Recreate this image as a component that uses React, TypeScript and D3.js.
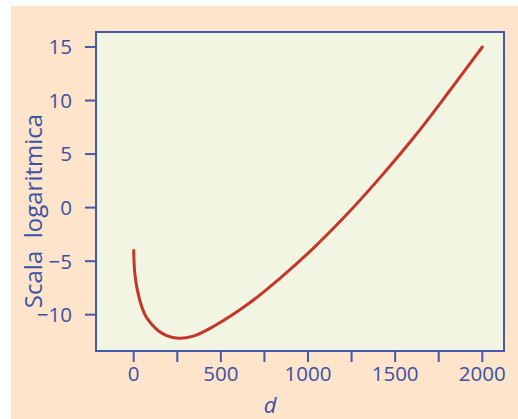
import React, { useEffect, useRef } from "react";
import * as d3 from "d3";

// values
const dValues = [0, 6, 21, 46, 71, 103, 141, 189, 256, 342, 457, 648, 839, 1030, 1222, 1413, 1624, 1815, 2000];
const logValues = [-4.0, -6.1, -7.7, -9.25, -10.2, -10.9, -11.5, -11.95, -12.2, -12.0, -11.1, -9.1, -6.6, -3.8, -0.65, 2.8, 6.9, 10.96, 15.0];
const xTicks = [0, 250, 500, 750, 1000, 1250, 1500, 1750, 2000];
const xLabels = [0, 500, 1000, 1500, 2000];
const yTicks = [-10, -5, 0, 5, 10, 15];

const W = 518;
const H = 419;
const frame = { left: 96, top: 32, right: 504, bottom: 351 };
const BLUE = "#4459ad";
const TEXT = "#3a52a6";
const FONT = "'Open Sans', 'Noto Sans', sans-serif";

const App = () => {
  const ref = useRef<SVGSVGElement>(null);

  useEffect(() => {
    const svg = d3.select(ref.current);
    svg.selectAll("*").remove();

    const x = d3.scaleLinear().domain([0, 2000]).range([133.7, 482.3]);
    const y = d3.scaleLinear().domain([-10, 15]).range([314.7, 47]);

    // page background
    svg.append("rect")
      .attr("x", 11).attr("y", 6)
      .attr("width", W - 11).attr("height", H - 6)
      .attr("fill", "#fde4cb");

    // plot area
    svg.append("rect")
      .attr("x", frame.left).attr("y", frame.top)
      .attr("width", frame.right - frame.left)
      .attr("height", frame.bottom - frame.top)
      .attr("fill", "#f1f5e1")
      .attr("stroke", BLUE)
      .attr("stroke-width", 2);

    // x ticks
    svg.append("g").selectAll("line")
      .data(xTicks)
      .enter()
      .append("line")
      .attr("x1", d => x(d)).attr("x2", d => x(d))
      .attr("y1", frame.bottom).attr("y2", frame.bottom + 11)
      .attr("stroke", BLUE)
      .attr("stroke-width", 2);

    svg.append("g").selectAll("text")
      .data(xLabels)
      .enter()
      .append("text")
      .attr("x", d => x(d))
      .attr("y", 381)
      .attr("text-anchor", "middle")
      .attr("font-family", FONT)
      .attr("font-size", 20.5)
      .attr("fill", TEXT)
      .text(d => d);

    // y ticks
    svg.append("g").selectAll("line")
      .data(yTicks)
      .enter()
      .append("line")
      .attr("x1", frame.left - 11).attr("x2", frame.left)
      .attr("y1", d => y(d)).attr("y2", d => y(d))
      .attr("stroke", BLUE)
      .attr("stroke-width", 2);

    svg.append("g").selectAll("text")
      .data(yTicks)
      .enter()
      .append("text")
      .attr("x", 72)
      .attr("y", d => y(d))
      .attr("dy", "0.36em")
      .attr("text-anchor", "end")
      .attr("font-family", FONT)
      .attr("font-size", 20.5)
      .attr("fill", TEXT)
      .text(d => (d < 0 ? "\u2212" + Math.abs(d) : String(d)));

    // axis titles
    svg.append("text")
      .attr("x", 270)
      .attr("y", 413)
      .attr("text-anchor", "middle")
      .attr("font-family", FONT)
      .attr("font-style", "italic")
      .attr("font-size", 22)
      .attr("fill", TEXT)
      .text("d");

    svg.append("text")
      .attr("transform", "translate(42,211) rotate(-90)")
      .attr("text-anchor", "middle")
      .attr("font-family", FONT)
      .attr("font-size", 24)
      .attr("fill", TEXT)
      .attr("xml:space", "preserve")
      .text("Scala  logaritmica");

    // curve
    const line = d3.line<number>()
      .x((_, i) => x(dValues[i]))
      .y(v => y(v))
      .curve(d3.curveCatmullRom.alpha(0.5));

    svg.append("path")
      .datum(logValues)
      .attr("d", line)
      .attr("fill", "none")
      .attr("stroke", "#c5352a")
      .attr("stroke-width", 3)
      .attr("stroke-linecap", "round");
  }, []);

  return (
    <svg
      ref={ref}
      width={W}
      height={H}
      style={{ position: "absolute", left: 0, top: 0, display: "block", background: "#fff" }}
    />
  );
};

export default App;
